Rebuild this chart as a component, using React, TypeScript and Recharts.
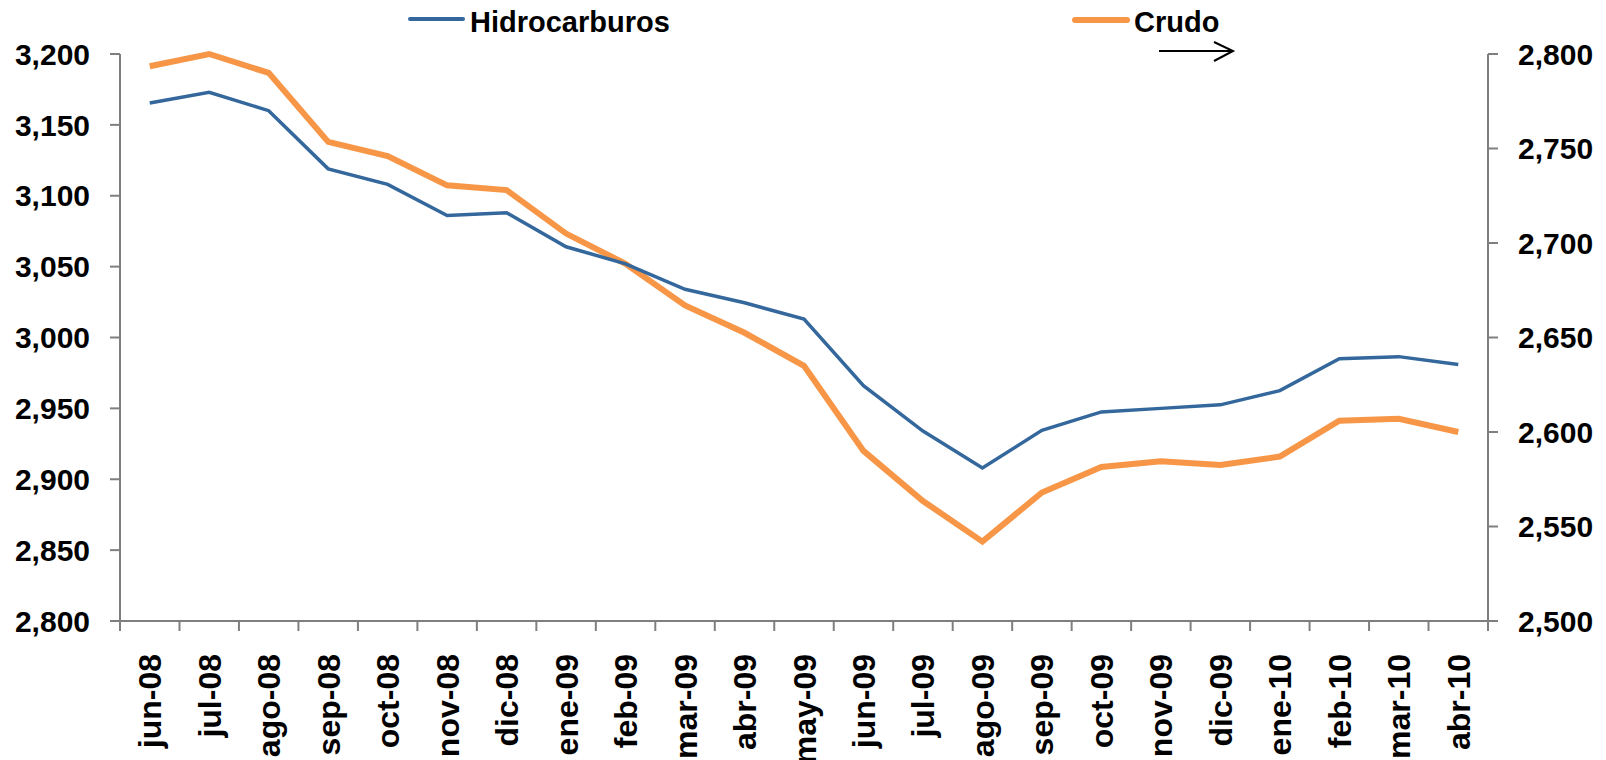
import { LineChart, Line, XAxis, YAxis } from 'recharts';

const months = [
    'jun-08', 'jul-08', 'ago-08', 'sep-08', 'oct-08', 'nov-08', 'dic-08', 'ene-09',
    'feb-09', 'mar-09', 'abr-09', 'may-09', 'jun-09', 'jul-09', 'ago-09', 'sep-09',
    'oct-09', 'nov-09', 'dic-09', 'ene-10', 'feb-10', 'mar-10', 'abr-10',
];

const hidrocarburos = [
    3165.5, 3173, 3160, 3119, 3108, 3086, 3088, 3064, 3052, 3034, 3024.5, 3013,
    2966, 2934, 2908, 2934.5, 2947.5, 2950, 2952.5, 2962.5, 2985, 2986.5, 2981,
];

const crudo = [
    2793.5, 2800, 2790, 2753.5, 2746, 2730.5, 2728, 2705, 2689, 2667, 2652.5, 2635,
    2590, 2563.5, 2542, 2568, 2581.5, 2584.5, 2582.5, 2587, 2606, 2607, 2600,
];

const leftTicks = [2800, 2850, 2900, 2950, 3000, 3050, 3100, 3150, 3200];
const rightTicks = [2500, 2550, 2600, 2650, 2700, 2750, 2800];

const WIDTH = 1606;
const HEIGHT = 760;
const PLOT_LEFT = 120;
const PLOT_RIGHT = 1488;
const PLOT_TOP = 54;
const PLOT_BOTTOM = 621;

const BLUE = '#34679c';
const ORANGE = '#f79646';
const AXIS = '#7f7f7f';
const FONT = '"Liberation Sans", Arial, sans-serif';

const chartData = months.map((m, i) => ({
    name: m,
    hidro: hidrocarburos[i],
    crudo: crudo[i],
}));

const fmt = (v: number) => v.toLocaleString('en-US');

const band = (PLOT_RIGHT - PLOT_LEFT) / months.length;

// Excel puts the category ticks between the labels, so draw them from the tick
const MonthTick = ({ x, payload, index }: any) => {
    const half = band / 2;
    const ty = PLOT_BOTTOM + 33;
    return (
        <g>
            <line x1={x - half} x2={x - half} y1={PLOT_BOTTOM} y2={PLOT_BOTTOM + 10} stroke={AXIS} strokeWidth={2} />
            {index === months.length - 1 && (
                <line x1={x + half} x2={x + half} y1={PLOT_BOTTOM} y2={PLOT_BOTTOM + 10} stroke={AXIS} strokeWidth={2} />
            )}
            <text
                x={x}
                y={ty}
                dy="0.36em"
                transform={`rotate(-90, ${x}, ${ty})`}
                textAnchor="end"
                fontFamily={FONT}
                fontWeight="bold"
                fontSize={32}
                fill="#000"
            >
                {payload.value}
            </text>
        </g>
    );
};

export default function App() {
    const tickStyle = { fill: '#000', fontSize: 30, fontWeight: 'bold', fontFamily: FONT };

    return (
        <div style={{ position: 'relative', width: WIDTH, height: HEIGHT, background: '#fff' }}>
            <style>{'body { margin: 0; }'}</style>
            <LineChart
                width={WIDTH}
                height={HEIGHT}
                data={chartData}
                margin={{ top: PLOT_TOP, right: 0, left: 0, bottom: 0 }}
            >
                <XAxis
                    dataKey="name"
                    scale="band"
                    interval={0}
                    height={HEIGHT - PLOT_BOTTOM}
                    axisLine={{ stroke: AXIS, strokeWidth: 2 }}
                    tickLine={false}
                    tick={<MonthTick />}
                />
                <YAxis
                    yAxisId="left"
                    width={PLOT_LEFT}
                    domain={[2800, 3200]}
                    ticks={leftTicks}
                    tickFormatter={fmt}
                    axisLine={{ stroke: AXIS, strokeWidth: 2 }}
                    tickLine={{ stroke: AXIS, strokeWidth: 2 }}
                    tickSize={10}
                    tickMargin={20}
                    tick={tickStyle}
                />
                <YAxis
                    yAxisId="right"
                    orientation="right"
                    width={WIDTH - PLOT_RIGHT}
                    domain={[2500, 2800]}
                    ticks={rightTicks}
                    tickFormatter={fmt}
                    axisLine={{ stroke: AXIS, strokeWidth: 2 }}
                    tickLine={{ stroke: AXIS, strokeWidth: 2 }}
                    tickSize={10}
                    tickMargin={20}
                    tick={{ ...tickStyle, textAnchor: 'start' }}
                />
                <Line
                    yAxisId="right"
                    type="linear"
                    dataKey="crudo"
                    stroke={ORANGE}
                    strokeWidth={6}
                    dot={false}
                    isAnimationActive={false}
                />
                <Line
                    yAxisId="left"
                    type="linear"
                    dataKey="hidro"
                    stroke={BLUE}
                    strokeWidth={3.5}
                    dot={false}
                    isAnimationActive={false}
                />
            </LineChart>

            {/* legend + arrow, drawn like the Excel original */}
            <svg
                width={WIDTH}
                height={HEIGHT}
                style={{ position: 'absolute', left: 0, top: 0, pointerEvents: 'none' }}
            >
                <line x1={410} x2={463} y1={19} y2={19} stroke={BLUE} strokeWidth={4} strokeLinecap="round" />
                <text x={470} y={32} fontFamily={FONT} fontWeight="bold" fontSize={29} fill="#000">
                    Hidrocarburos
                </text>
                <line x1={1075} x2={1127} y1={20} y2={20} stroke={ORANGE} strokeWidth={6} strokeLinecap="round" />
                <text x={1134} y={32} fontFamily={FONT} fontWeight="bold" fontSize={29} fill="#000">
                    Crudo
                </text>
                <line x1={1159} x2={1232} y1={51} y2={51} stroke="#000" strokeWidth={2} />
                <polyline points="1214,42 1233,51 1214,61" fill="none" stroke="#000" strokeWidth={2} />
            </svg>
        </div>
    );
}
